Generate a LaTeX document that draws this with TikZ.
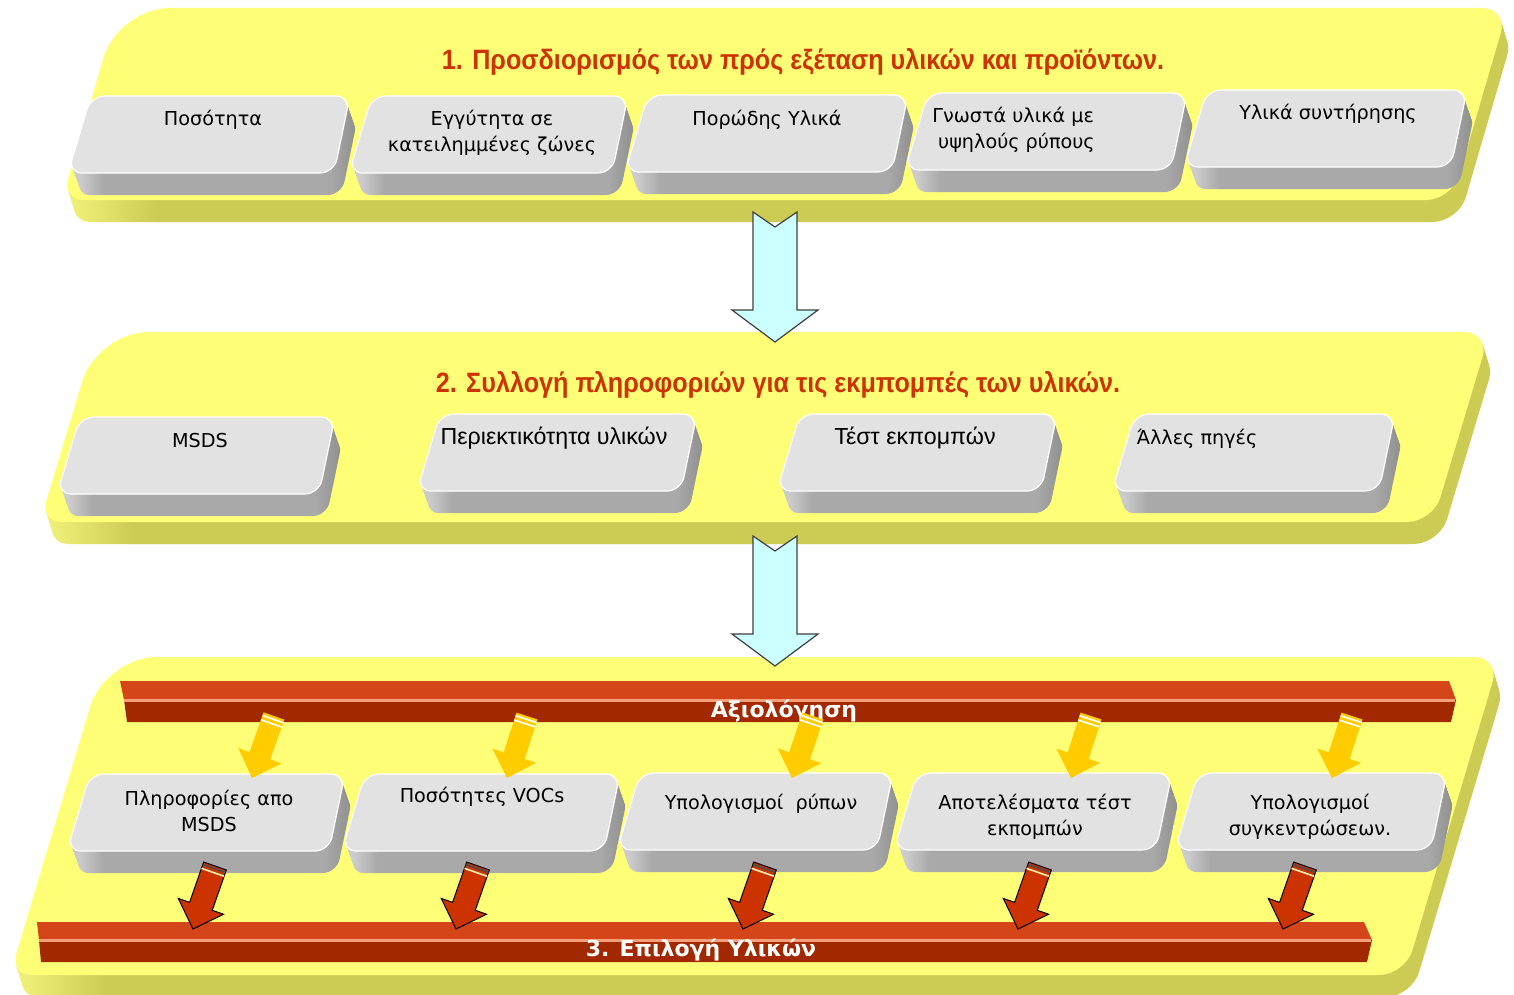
\documentclass[tikz,border=0pt]{standalone}
\usepackage{fontspec}
\setmainfont{DejaVu Sans}
\newfontfamily\titlefont[FakeStretch=0.9]{Liberation Sans}
\newfontfamily\arialfont{Liberation Sans}
\usetikzlibrary{calc}

\definecolor{bandface}{HTML}{FFFF77}
\definecolor{bandside}{HTML}{CCCC55}
\definecolor{bandlit}{HTML}{F2F27A}
\definecolor{boxface}{HTML}{E2E2E2}
\definecolor{boxside}{HTML}{A9A9A9}
\definecolor{boxlit}{HTML}{D2D2D2}
\definecolor{boxdark}{HTML}{8E8E8E}
\definecolor{barhi}{HTML}{D4461A}
\definecolor{barlo}{HTML}{A22800}
\definecolor{barline}{HTML}{F3A07A}
\definecolor{titlered}{HTML}{CC3300}
\definecolor{cyanfill}{HTML}{CCFFFF}
\definecolor{arrowgold}{HTML}{FFCC00}
\definecolor{arrowred}{HTML}{CC3300}
\definecolor{arrowedge}{HTML}{404040}

% lit left end and shaded right end of the thick edges
\pgfdeclarehorizontalshading{bandedge}{100bp}{color(0bp)=(bandlit); color(25bp)=(bandlit); color(28bp)=(bandside); color(100bp)=(bandside)}
\pgfdeclarehorizontalshading{boxedge}{100bp}{color(0bp)=(boxlit); color(25bp)=(boxlit); color(30bp)=(boxside); color(70bp)=(boxside); color(75bp)=(boxdark); color(100bp)=(boxdark)}

% slanted quadrilateral: style, top-left x, top-right x, top y, bottom-left x, bottom-right x, bottom y,
% corner radii as {bottom-left/top-left/top-right/bottom-right}
\newcommand\slabfill[8]{%
  \foreach \rbl/\rtl/\rtr/\rbr in {#8}{%
  \path[#1, rounded corners=\rbl] ({(#5+#6)/2},{#7}) -- ({#5},{#7}) [rounded corners=\rtl] -- ({#2},{#4})
    [rounded corners=\rtr] -- ({#3},{#4}) [rounded corners=\rbr] -- ({#6},{#7}) [sharp corners] -- cycle;}}

% raised yellow panel with its thick lower edge
\newcommand\band[6]{%
  \foreach \k in {2,4,...,22}{\slabfill{shading=bandedge,shift={(0.3*\k,\k)}}{#1}{#2}{#3}{#4}{#5}{#6}{11pt/26pt/13pt/13pt}}%
  \slabfill{fill=bandface}{#1}{#2}{#3}{#4}{#5}{#6}{11pt/26pt/13pt/13pt}}

% raised grey key: top-left x, top-right x, top y
\newcommand\gbox[3]{%
  \foreach \k in {2,4,...,22}{\slabfill{shading=boxedge,shift={(0.35*\k,\k)}}{#1}{#2}{#3}{#1-23}{#2-16}{#3+77}{7pt/7pt/7pt/7pt}}%
  \slabfill{fill=boxface,draw=white,line width=0.6pt}{#1}{#2}{#3}{#1-23}{#2-16}{#3+77}{7pt/7pt/7pt/7pt}}

% block arrow between two named coordinates: style, start, end, shaft half width, head half width, head start
\newcommand\blockarrow[6]{%
  \path[#1] ($(#2)!#4!90:(#3)$) -- ($(#2)!#6!(#3)!#4!90:(#3)$) -- ($(#2)!#6!(#3)!#5!90:(#3)$)
    -- (#3) -- ($(#2)!#6!(#3)!#5!-90:(#3)$) -- ($(#2)!#6!(#3)!#4!-90:(#3)$) -- ($(#2)!#4!-90:(#3)$) -- cycle;}

% bands across the tail of a block arrow
\newcommand\tailband[5]{%
  \draw[#1] ($(#2)!#5!(#3)!#4!90:(#3)$) -- ($(#2)!#5!(#3)!#4!-90:(#3)$);}

\tikzset{
  boxtext/.style={font=\fontsize{9.6}{13}\selectfont, align=center, inner sep=0pt, text=black},
  narrowtext/.style={font=\arialfont\fontsize{11.6}{13}\selectfont, align=center, inner sep=0pt, text=black},
  titletext/.style={font=\titlefont\bfseries\fontsize{14}{16}\selectfont, text=titlered, inner sep=0pt},
  bartext/.style={font=\bfseries\fontsize{11}{13}\selectfont, text=white, inner sep=0pt},
  downarrow/.style={draw=arrowedge, fill=cyanfill, line width=0.6pt, line join=miter},
  goldarrow/.style={fill=arrowgold},
  redarrow/.style={fill=arrowred, draw=black, line width=0.5pt},
}

\begin{document}
\begin{tikzpicture}[x=0.5pt,y=-0.5pt]
\useasboundingbox (0,0) rectangle (1514,995);
\fill[white] (0,0) rectangle (1514,995);

% three panels
\band{118}{1508}{8}{62}{1452}{200}
\band{97}{1490}{332}{40}{1433}{522}
\band{105}{1500}{657}{10}{1405}{975}

% panel 1
\node[titletext] (title1) at (803,62) {1. Προσδιορισμός των πρός εξέταση υλικών και προϊόντων.};
\gbox{91}{350}{96}
\gbox{372}{628}{96}
\gbox{648}{908}{95}
\gbox{928}{1187}{93}
\gbox{1207}{1467}{90}
\node[boxtext] (k11) at (213,120) {Ποσότητα};
\node[boxtext] (k12) at (492,133) {Εγγύτητα σε\\κατειλημμένες ζώνες};
\node[boxtext] (k13) at (767,120) {Πορώδης Υλικά};
\node[boxtext, anchor=west, align=left] (k14) at (932,130) {Γνωστά υλικά με\\\hspace{0.3em}υψηλούς ρύπους};
\node[boxtext] (k15) at (1328,114) {Υλικά συντήρησης};

% panel 2
\node[titletext] (title2) at (778,385) {2. Συλλογή πληροφοριών για τις εκμπομπές των υλικών.};
\gbox{80}{335}{417}
\gbox{440}{697}{414}
\gbox{800}{1057}{414}
\gbox{1135}{1395}{414}
\node[boxtext] (k21) at (200,441) {MSDS};
\node[narrowtext] (k22) at (554,438) {Περιεκτικότητα υλικών};
\node[narrowtext] (k23) at (915,438) {Τέστ εκπομπών};
\node[boxtext] (k24) at (1197,439) {Άλλες πηγές};

% panel 3: evaluation bar
\fill[barhi] (120,681) -- (1449,681) -- (1456,700) -- (124,700) -- cycle;
\fill[barlo] (124,700) -- (1456,700) -- (1451,722) -- (127,722) -- cycle;
\draw[barline, line width=1.5] (124,700) -- (1455,700);
\node[bartext] (evalbar) at (784,711) {Αξιολόγηση};

% panel 3: selection bar
\fill[barhi] (37,922) -- (1364,922) -- (1372,940) -- (39,940) -- cycle;
\fill[barlo] (39,940) -- (1372,940) -- (1367,962) -- (41,962) -- cycle;
\draw[barline, line width=1.5] (39,940) -- (1371,940);
\node[bartext] (selbar) at (701,950) {3. Επιλογή Υλικών};

% panel 3 keys
\gbox{90}{345}{774}
\gbox{365}{620}{774}
\gbox{640}{893}{773}
\gbox{917}{1172}{773}
\gbox{1198}{1447}{773}
\node[boxtext] (k31) at (209,811) {Πληροφορίες απο\\MSDS};
\node[boxtext] (k32) at (482,797) {Ποσότητες VOCs};
\node[boxtext] (k33) at (761,804) {Υπολογισμοί\ \ ρύπων};
\node[boxtext] (k34) at (1035,817) {Αποτελέσματα τέστ\\εκπομπών};
\node[boxtext] (k35) at (1310,817) {Υπολογισμοί\\συγκεντρώσεων.};

% arrows from the evaluation bar down to the keys
\foreach \i/\sx/\ex in {1/274/252, 2/527/507, 3/813/792, 4/1091/1071, 5/1352/1332}{
  \coordinate (g\i s) at (\sx,716);
  \coordinate (g\i e) at (\ex,778);
  \blockarrow{goldarrow}{g\i s}{g\i e}{5.5pt}{11.5pt}{0.64}
  \tailband{white, line width=0.8pt}{g\i s}{g\i e}{5.5pt}{0.05}
  \tailband{white, line width=0.8pt}{g\i s}{g\i e}{5.5pt}{0.12}
}

% arrows from the keys down to the selection bar
\foreach \i/\sx/\ex in {1/215/193, 2/478/456, 3/765/743, 4/1040/1018, 5/1305/1283}{
  \coordinate (r\i s) at (\sx,866);
  \coordinate (r\i e) at (\ex,929);
  \blockarrow{redarrow}{r\i s}{r\i e}{6pt}{12pt}{0.64}
  \tailband{black!70, line width=0.8pt}{r\i s}{r\i e}{6pt}{0.04}
  \tailband{white!70!arrowgold, line width=0.8pt}{r\i s}{r\i e}{6pt}{0.10}
}

% hollow arrows between the panels
\coordinate (c1s) at (775,212);
\coordinate (c1e) at (775,342);
\coordinate (c2s) at (775,536);
\coordinate (c2e) at (775,666);
\foreach \s/\e in {c1s/c1e, c2s/c2e}{
  \draw[downarrow] ($(\s)+(-22,0)$) -- ($(\s)+(0,15)$) -- ($(\s)+(22,0)$) -- ($(\e)+(22,-32)$)
    -- ($(\e)+(43,-32)$) -- (\e) -- ($(\e)+(-43,-32)$) -- ($(\e)+(-22,-32)$) -- cycle;
}
\end{tikzpicture}
\end{document}
